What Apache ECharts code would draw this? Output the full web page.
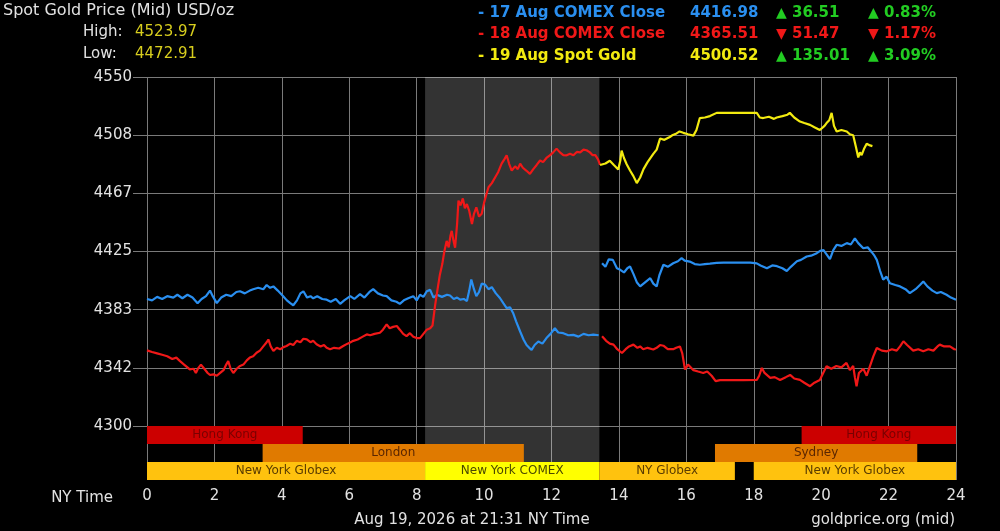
<!DOCTYPE html>
<html>
<head>
<meta charset="utf-8">
<script src="https://cdn.jsdelivr.net/npm/echarts@6/dist/echarts.min.js"></script>
<style>
html, body { margin: 0; padding: 0; background: #000; }
#chart { width: 1000px; height: 531px; }
</style>
</head>
<body>
<div id="chart"></div>
<script>
// price lines, [NY hour, USD/oz]
var blueBefore = [[0,4391],[0.15,4390],[0.3,4392.5],[0.45,4391],[0.6,4393],[0.78,4392],[0.9,4394],[1.05,4391.5],[1.2,4394],[1.35,4392],[1.5,4388],[1.62,4391],[1.75,4393],[1.87,4397],[1.95,4393],[2.07,4388],[2.2,4392],[2.35,4394],[2.5,4393],[2.65,4396],[2.76,4396.5],[2.9,4395],[3.05,4397],[3.15,4398],[3.3,4399],[3.45,4398],[3.55,4401],[3.65,4399],[3.75,4400],[3.88,4397],[4.04,4393],[4.15,4390],[4.25,4388],[4.34,4386.5],[4.45,4390],[4.55,4395],[4.64,4396.5],[4.75,4392],[4.85,4393],[4.93,4391.5],[5.05,4393],[5.2,4391],[5.33,4390.5],[5.45,4389],[5.6,4391],[5.73,4387.5],[5.85,4390],[6.03,4393],[6.15,4391],[6.32,4394.5],[6.45,4392],[6.6,4396],[6.71,4398],[6.85,4395],[7.0,4393.5],[7.11,4393],[7.25,4390],[7.4,4389],[7.5,4387.5],[7.62,4390],[7.75,4391.5],[7.9,4393],[8.0,4390],[8.1,4394],[8.2,4392.5],[8.3,4396.5],[8.4,4397.5],[8.5,4392],[8.6,4394],[8.75,4392.5],[8.9,4394],[8.99,4393.5],[9.1,4391],[9.2,4392],[9.29,4390.5],[9.4,4391],[9.49,4389.5],[9.56,4397],[9.62,4405],[9.7,4398],[9.77,4393],[9.85,4396],[9.93,4402],[10.03,4401.3],[10.13,4398],[10.23,4399.5],[10.35,4395],[10.47,4391.7],[10.57,4388],[10.67,4384.5],[10.77,4385],[10.86,4381],[10.95,4375],[11.07,4367.7],[11.17,4362],[11.26,4358],[11.34,4356],[11.41,4354.5],[11.5,4358],[11.61,4360.5],[11.73,4359],[11.85,4363],[11.97,4366],[12.1,4370],[12.2,4367],[12.35,4366.5],[12.5,4365],[12.65,4365.3],[12.8,4364],[12.95,4366],[13.1,4365],[13.24,4365.5],[13.4,4365]];
var blueAfter = [[13.5,4416.6],[13.6,4414],[13.7,4419.4],[13.82,4419],[13.94,4413],[14.04,4411.9],[14.15,4410],[14.25,4413],[14.33,4414.3],[14.43,4409],[14.53,4403],[14.63,4400],[14.73,4402],[14.83,4404],[14.93,4405.9],[15.02,4402],[15.12,4400],[15.2,4408],[15.32,4415.5],[15.45,4414],[15.61,4416.6],[15.75,4418],[15.86,4420.2],[15.95,4418.5],[16.1,4417.8],[16.25,4416],[16.4,4415.5],[16.55,4416],[16.7,4416.3],[16.9,4416.8],[17.1,4417],[17.3,4417],[17.59,4417],[17.9,4417],[18.09,4416.5],[18.2,4415],[18.39,4413],[18.55,4415],[18.69,4414.5],[18.85,4413],[18.98,4411],[19.1,4414],[19.28,4418],[19.4,4419],[19.57,4421.4],[19.7,4422],[19.87,4423.8],[19.97,4425.5],[20.07,4426],[20.16,4423],[20.26,4419.5],[20.36,4426],[20.46,4429.8],[20.6,4429],[20.76,4431],[20.88,4430],[21.0,4434.4],[21.1,4431],[21.25,4427.3],[21.38,4428],[21.5,4424.5],[21.58,4422],[21.65,4419],[21.75,4411],[21.84,4404.8],[21.94,4407],[22.04,4402.3],[22.2,4401],[22.34,4400],[22.5,4398],[22.63,4395.2],[22.8,4398],[22.93,4401],[23.03,4403.5],[23.15,4400],[23.3,4397],[23.43,4395.2],[23.55,4396],[23.72,4394],[23.85,4392],[24,4390.5]];
var redBefore = [[0,4354.2],[0.15,4353],[0.3,4352],[0.45,4351],[0.6,4350],[0.75,4348],[0.87,4349],[0.98,4346.5],[1.1,4344],[1.2,4342],[1.27,4340.6],[1.38,4341],[1.45,4338],[1.52,4341.5],[1.6,4344],[1.7,4341],[1.8,4338],[1.87,4336.5],[1.97,4337],[2.07,4336],[2.17,4338],[2.27,4340],[2.35,4344],[2.41,4346.5],[2.48,4341],[2.56,4338],[2.66,4341],[2.76,4343],[2.86,4344],[2.96,4347],[3.05,4349],[3.15,4350],[3.25,4352.5],[3.35,4354],[3.45,4357],[3.55,4360],[3.6,4362],[3.67,4357],[3.75,4353.7],[3.85,4356],[3.95,4355],[4.05,4356.5],[4.14,4357.3],[4.25,4359],[4.34,4358],[4.44,4361],[4.55,4360],[4.64,4362.5],[4.74,4362],[4.85,4360],[4.93,4361],[5.03,4358.6],[5.15,4357],[5.25,4358],[5.33,4356],[5.43,4355],[5.55,4356],[5.7,4355.5],[5.82,4357.3],[5.95,4359],[6.04,4360],[6.12,4361],[6.25,4362],[6.4,4364],[6.52,4365.6],[6.62,4365],[6.75,4366],[6.91,4366.8],[7.0,4369],[7.11,4372.8],[7.2,4370],[7.3,4371],[7.41,4371.6],[7.5,4369],[7.6,4366],[7.7,4364.4],[7.8,4366.5],[7.9,4364],[8.0,4363],[8.1,4362.9],[8.2,4366],[8.3,4369],[8.4,4370],[8.47,4372],[8.55,4387],[8.62,4398],[8.69,4408.6],[8.76,4416],[8.82,4425],[8.89,4432.6],[8.95,4428],[9.0,4436],[9.04,4439.8],[9.09,4433],[9.14,4427.7],[9.2,4445],[9.24,4461.4],[9.3,4458],[9.37,4463],[9.43,4456],[9.49,4459],[9.56,4454],[9.64,4444.6],[9.7,4452],[9.77,4456.6],[9.85,4450],[9.93,4452],[10.0,4460],[10.07,4466],[10.13,4471],[10.23,4474],[10.33,4478.2],[10.42,4482],[10.52,4487.9],[10.6,4491],[10.67,4493.9],[10.74,4488],[10.82,4483],[10.92,4486],[11.0,4484],[11.07,4487.9],[11.15,4485],[11.25,4483],[11.36,4480.6],[11.46,4484],[11.56,4487],[11.66,4490.2],[11.75,4489],[11.85,4492],[11.95,4493.9],[12.05,4496],[12.15,4498.7],[12.25,4496],[12.35,4494],[12.45,4493.9],[12.55,4495],[12.65,4494],[12.75,4496.3],[12.85,4496],[12.95,4498],[13.04,4497.5],[13.14,4496],[13.22,4494],[13.3,4494],[13.38,4491],[13.44,4487]];
var redAfter = [[13.5,4364.3],[13.62,4361],[13.73,4359],[13.84,4358.3],[13.95,4355],[14.09,4352.3],[14.2,4355],[14.3,4357],[14.43,4358.3],[14.55,4356],[14.63,4357],[14.72,4355],[14.85,4356],[15.02,4354.8],[15.12,4356],[15.22,4358],[15.32,4357.5],[15.45,4355],[15.61,4355],[15.7,4356],[15.81,4357],[15.88,4352],[15.96,4340.5],[16.05,4344],[16.21,4340],[16.35,4339],[16.5,4338],[16.62,4339],[16.75,4336],[16.87,4332.1],[17.0,4332.9],[17.29,4332.9],[17.69,4332.9],[18.09,4333],[18.16,4336],[18.24,4341.6],[18.32,4338],[18.49,4334.5],[18.62,4335],[18.78,4333],[18.95,4335],[19.08,4336.6],[19.2,4334],[19.37,4333],[19.5,4331],[19.67,4328.5],[19.8,4331],[19.96,4333],[20.06,4338],[20.16,4342.8],[20.3,4341],[20.45,4343],[20.6,4342],[20.75,4345.2],[20.85,4340],[20.95,4343],[21.0,4335],[21.05,4328.5],[21.12,4338],[21.25,4341],[21.35,4336],[21.45,4343],[21.55,4350],[21.65,4355.9],[21.8,4354],[21.95,4353.5],[22.1,4355],[22.24,4354],[22.34,4357],[22.44,4360.7],[22.55,4358],[22.73,4354],[22.88,4355],[23.03,4353.5],[23.18,4355],[23.33,4354],[23.45,4357],[23.52,4358.3],[23.65,4357],[23.82,4357],[23.95,4355],[24,4354.8]];
var yellowSpot = [[13.44,4487],[13.6,4488],[13.73,4490],[13.85,4487],[13.98,4483.8],[14.04,4490],[14.08,4497.3],[14.15,4492],[14.23,4487.5],[14.33,4483],[14.43,4479],[14.53,4474],[14.63,4478],[14.73,4484],[14.85,4489],[15.02,4494.9],[15.12,4498],[15.22,4505.9],[15.35,4505],[15.51,4507],[15.6,4508.5],[15.71,4509.6],[15.8,4511],[15.91,4510],[16.05,4509],[16.21,4508],[16.3,4512],[16.4,4520.6],[16.55,4521],[16.7,4522],[16.9,4524.3],[17.2,4524.3],[17.5,4524.3],[17.8,4524.3],[18.09,4524.3],[18.18,4521],[18.28,4520.6],[18.45,4521.5],[18.6,4520],[18.68,4521],[18.85,4522],[19.0,4523],[19.07,4524.3],[19.2,4521],[19.37,4518.1],[19.5,4517],[19.67,4515.7],[19.8,4514],[19.96,4512],[20.1,4515],[20.16,4517],[20.24,4519],[20.31,4524.3],[20.38,4515],[20.46,4511],[20.6,4512],[20.76,4511],[20.85,4509],[20.95,4508.3],[21.03,4500],[21.1,4492.4],[21.15,4496],[21.2,4494],[21.28,4499],[21.35,4502.2],[21.45,4501],[21.52,4500.5]];

// trading sessions bar
var sessionNames = ['Hong Kong', 'London', 'New York Globex', 'New York COMEX', 'NY Globex', 'Sydney', 'New York Globex', 'Hong Kong'];
var sessionRows = [0, 1, 2, 2, 2, 1, 2, 0];
var sessionStart = [0, 3.43, 0, 8.25, 13.42, 16.85, 18, 19.42];
var sessionEnd = [4.62, 11.18, 8.25, 13.42, 17.44, 22.85, 24, 24];
var comexHours = [8.25, 13.42];

// header figures
var legendNames = ['17 Aug COMEX Close', '18 Aug COMEX Close', '19 Aug Spot Gold'];
var legendPrices = [4416.98, 4365.51, 4500.52];
var legendChanges = [36.51, -51.47, 135.01];
var legendPercents = [0.83, -1.17, 3.09];
var dayHigh = 4523.97;
var dayLow = 4472.91;

var priceMin = 4300, priceMax = 4550;

var FONT = 'DejaVu Sans';
var lineColors = ['#2a8ff0', '#f01818', '#f2ea10'];
var sessionStyle = {
    'Hong Kong': ['#cc0000', '#7a0000'],
    'London': ['#e07a00', '#5a2600'],
    'Sydney': ['#e07a00', '#5a2600'],
    'New York Globex': ['#ffc20e', '#5a3c00'],
    'NY Globex': ['#ffc20e', '#5a3c00'],
    'New York COMEX': ['#ffff00', '#4a4800']
};

var chart = echarts.init(document.getElementById('chart'));

var sessionData = sessionNames.map(function (n, i) {
    return { name: n, value: [sessionRows[i], sessionStart[i], sessionEnd[i]] };
});

function renderSession(params, api) {
    var row = api.value(0);
    var p0 = api.coord([api.value(1), row]);
    var p1 = api.coord([api.value(2), row + 1]);
    var name = sessionNames[params.dataIndex];
    var st = sessionStyle[name];
    return {
        type: 'rect',
        shape: { x: p0[0], y: p0[1], width: p1[0] - p0[0], height: p1[1] - p0[1] },
        style: { fill: st[0] },
        textContent: { style: { text: name, fill: st[1], font: '12px ' + FONT } },
        textConfig: { position: 'inside' }
    };
}

function lineSeries(data, color) {
    return {
        type: 'line',
        xAxisIndex: 0,
        yAxisIndex: 0,
        data: data,
        showSymbol: false,
        symbol: 'none',
        lineStyle: { color: color, width: 2.2 },
        z: 3
    };
}

function arrow(v) { return v >= 0 ? '{up|▲}' : '{dn|▼}'; }

var graphics = [
    { type: 'text', x: 3, y: 11, style: { text: 'Spot Gold Price (Mid) USD/oz', fill: '#e2e2e2', font: '16px ' + FONT, verticalAlign: 'middle' } },
    { type: 'text', x: 83, y: 32, style: { text: 'High:', fill: '#e2e2e2', font: '15px ' + FONT, verticalAlign: 'middle' } },
    { type: 'text', x: 135, y: 32, style: { text: dayHigh.toFixed(2), fill: '#d8ce1e', font: '15px ' + FONT, verticalAlign: 'middle' } },
    { type: 'text', x: 83, y: 54, style: { text: 'Low:', fill: '#e2e2e2', font: '15px ' + FONT, verticalAlign: 'middle' } },
    { type: 'text', x: 135, y: 54, style: { text: dayLow.toFixed(2), fill: '#d8ce1e', font: '15px ' + FONT, verticalAlign: 'middle' } },
    { type: 'text', x: 113, y: 498, style: { text: 'NY Time', fill: '#e2e2e2', font: '15px ' + FONT, align: 'right', verticalAlign: 'middle' } },
    { type: 'text', x: 472, y: 520, style: { text: 'Aug 19, 2026 at 21:31 NY Time', fill: '#e2e2e2', font: '15px ' + FONT, align: 'center', verticalAlign: 'middle' } },
    { type: 'text', x: 955, y: 520, style: { text: 'goldprice.org (mid)', fill: '#e2e2e2', font: '15px ' + FONT, align: 'right', verticalAlign: 'middle' } }
];

var legendY = [13, 34.5, 56];
legendNames.forEach(function (n, i) {
    var c = lineColors[i];
    var chg = legendChanges[i] >= 0 ? '#22cc22' : '#f01818';
    var rich = {
        up: { fill: '#22cc22', font: 'bold 14px ' + FONT },
        dn: { fill: '#f01818', font: 'bold 14px ' + FONT }
    };
    graphics.push(
        { type: 'text', x: 478, y: legendY[i], style: { text: '- ' + n, fill: c, font: 'bold 15px ' + FONT, verticalAlign: 'middle' } },
        { type: 'text', x: 690, y: legendY[i], style: { text: legendPrices[i].toFixed(2), fill: c, font: 'bold 15px ' + FONT, verticalAlign: 'middle' } },
        { type: 'text', x: 776, y: legendY[i], style: { text: arrow(legendChanges[i]) + ' ' + Math.abs(legendChanges[i]).toFixed(2), fill: chg, font: 'bold 15px ' + FONT, verticalAlign: 'middle', rich: rich } },
        { type: 'text', x: 868, y: legendY[i], style: { text: arrow(legendPercents[i]) + ' ' + Math.abs(legendPercents[i]).toFixed(2) + '%', fill: chg, font: 'bold 15px ' + FONT, verticalAlign: 'middle', rich: rich } }
    );
});

var option = {
    backgroundColor: '#000',
    animation: false,
    textStyle: { fontFamily: FONT },
    grid: [
        { left: 147, right: 44, top: 77, bottom: 105 },
        { left: 147, right: 44, top: 426, bottom: 51 }
    ],
    xAxis: [
        {
            type: 'value', gridIndex: 0, min: 0, max: 24, interval: 2,
            axisLine: { show: false }, axisTick: { show: false }, axisLabel: { show: false },
            splitLine: { show: true, lineStyle: { color: '#7a7a7a', width: 1 } }
        },
        {
            type: 'value', gridIndex: 1, min: 0, max: 24, interval: 2,
            axisLine: { show: false },
            axisTick: { show: true, length: 5, lineStyle: { color: '#7a7a7a' } },
            axisLabel: { color: '#e2e2e2', fontSize: 15, margin: 9 },
            splitLine: { show: true, lineStyle: { color: '#7a7a7a', width: 1 } }
        }
    ],
    yAxis: [
        {
            type: 'value', gridIndex: 0, min: priceMin, max: priceMax, interval: (priceMax - priceMin) / 6,
            axisLine: { show: false },
            axisTick: { show: true, length: 14, lineStyle: { color: '#7a7a7a' } },
            axisLabel: { color: '#e2e2e2', fontSize: 15, margin: 15, formatter: function (v) { return Math.round(v); } },
            splitLine: { show: true, lineStyle: { color: '#7a7a7a', width: 1 } }
        },
        {
            type: 'value', gridIndex: 1, min: 0, max: 3, inverse: true, show: false
        }
    ],
    series: [
        {
            type: 'line', xAxisIndex: 0, yAxisIndex: 0, data: [], silent: true,
            markArea: { silent: true, itemStyle: { color: 'rgba(255,255,255,0.2)' }, data: [[{ xAxis: comexHours[0] }, { xAxis: comexHours[1] }]] }
        },
        {
            type: 'line', xAxisIndex: 1, yAxisIndex: 1, data: [], silent: true, z: 1,
            markArea: { silent: true, itemStyle: { color: 'rgba(255,255,255,0.2)' }, data: [[{ xAxis: comexHours[0] }, { xAxis: comexHours[1] }]] }
        },
        {
            type: 'custom', xAxisIndex: 1, yAxisIndex: 1, renderItem: renderSession,
            encode: { x: [1, 2], y: 0 }, data: sessionData, z: 4, silent: true
        },
        lineSeries(blueBefore, lineColors[0]),
        lineSeries(blueAfter, lineColors[0]),
        lineSeries(redBefore, lineColors[1]),
        lineSeries(redAfter, lineColors[1]),
        lineSeries(yellowSpot, lineColors[2])
    ],
    graphic: graphics
};

chart.setOption(option);
</script>
</body>
</html>
